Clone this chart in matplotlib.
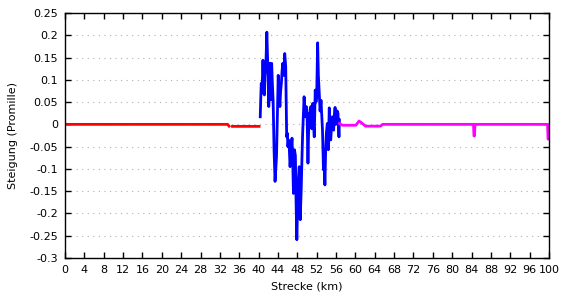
import numpy as np
import matplotlib.pyplot as plt
from matplotlib.ticker import FixedLocator, FixedFormatter

# --- data (km, Promille) ---
red_km = [0, 10, 20, 30, 33.6, 33.9, np.nan, 34.6, 37, 40.1]
red_val = [0.0, 0.0, 0.0, 0.0, 0.0, -0.004, np.nan, -0.0045, -0.0045, -0.0045]

blue_km = [40.34, 40.45, 40.55, 40.7, 40.9, 41.05, 41.2, 41.35, 41.5, 41.7, 41.85, 42.0,
           42.1, 42.2, 42.3, 42.4, 42.5, 42.6, 42.7, 42.85, 43.0, 43.2,
           43.4, 43.55, 43.7, 43.9, 44.05, 44.25, 44.4, 44.55, 44.7, 44.85, 45.0, 45.2,
           45.4, 45.6, 45.8, 45.95, 46.05, 46.2, 46.3, 46.4, 46.5, 46.7,
           46.9, 47.05, 47.2, 47.3, 47.4, 47.6, 47.75, 47.9, 48.1, 48.25, 48.4, 48.6,
           48.8, 48.95, 49.1, 49.25, 49.4, 49.55, 49.7, 49.85,
           50.0, 50.2, 50.3, 50.45, 50.6, 50.8, 51.0, 51.2, 51.35, 51.5, 51.7, 51.85,
           52.0, 52.2, 52.35, 52.5, 52.7, 52.9, 53.05, 53.2, 53.4, 53.55, 53.7, 53.85,
           54.0, 54.2, 54.4, 54.6, 54.75, 54.9, 55.1, 55.25, 55.5, 55.65, 55.8,
           55.95, 56.1, 56.25, 56.4, 56.6, 56.7]
blue_val = [0.017, 0.06, 0.092, 0.07, 0.144, 0.09, 0.066, 0.11, 0.13, 0.207, 0.15, 0.107,
            0.04, 0.1, 0.137, 0.08, 0.055, 0.12, 0.137, 0.09, 0.055, -0.06,
            -0.128, -0.1, -0.072, 0.03, 0.11, 0.07, 0.04, 0.075, 0.092, 0.12, 0.137, 0.11,
            0.159, 0.13, -0.028, -0.02, -0.05, -0.035, -0.042, -0.07, -0.095, -0.06,
            -0.031, -0.08, -0.155, -0.1, -0.057, -0.07, -0.18, -0.259, -0.162, -0.12, -0.095, -0.214,
            -0.147, -0.08, -0.02, 0.02, 0.062, 0.03, 0.017, 0.04,
            0.032, -0.087, -0.03, 0.025, 0.0, 0.04, -0.01, 0.047, 0.0, -0.028, 0.077, 0.05,
            0.062, 0.183, 0.11, 0.077, 0.03, 0.054, 0.02, -0.013, -0.102, -0.08, -0.136, -0.06,
            -0.02, 0.002, -0.057, 0.037, -0.01, -0.035, 0.0, 0.017, -0.013, 0.02, 0.038,
            0.0, 0.01, 0.03, 0.025, -0.028, 0.01]

mag_km = [56.7, 57.3, 60.1, 60.75, 61.2, 62.1, 65.2, 65.6, 75, 84.4, 84.5, 84.6, 84.7,
          92, 99.7, 99.8, 100]
mag_val = [0.002, -0.002, -0.002, 0.0075, 0.004, -0.004, -0.004, 0.0, 0.0, 0.0, -0.026, -0.026, 0.0,
           0.0, 0.0, -0.033, -0.033]

x_ticks = list(range(0, 101, 4))
y_ticks = [-0.3, -0.25, -0.2, -0.15, -0.1, -0.05, 0, 0.05, 0.1, 0.15, 0.2, 0.25]
y_labels = ['-0.3', '-0.25', '-0.2', '-0.15', '-0.1', '-0.05', '0', '0.05', '0.1', '0.15', '0.2', '0.25']

fig = plt.figure(figsize=(5.7, 3.0), dpi=100)
ax = fig.add_axes([65 / 570, 42 / 300, 484 / 570, 245 / 300])

ax.plot(red_km, red_val, color='#ff0000', lw=2)
ax.plot(blue_km, blue_val, color='#0000ff', lw=2)
ax.plot(mag_km, mag_val, color='#ff00ff', lw=2)

ax.set_xlim(0, 100)
ax.set_ylim(-0.3, 0.25)
ax.xaxis.set_major_locator(FixedLocator(x_ticks))
ax.yaxis.set_major_locator(FixedLocator(y_ticks))
ax.yaxis.set_major_formatter(FixedFormatter(y_labels))

ax.yaxis.grid(True, linestyle=(0, (1, 4)), color='#b0b0b0', lw=0.8)
ax.tick_params(direction='in', length=4, width=1, top=True, right=True,
               labelsize=8, colors='black', pad=5)
for s in ax.spines.values():
    s.set_linewidth(1)

ax.set_xlabel('Strecke (km)', fontsize=8, labelpad=5)
ax.set_ylabel('Steigung (Promille)', fontsize=8, labelpad=8)

fig.savefig('out.png', dpi=100)
